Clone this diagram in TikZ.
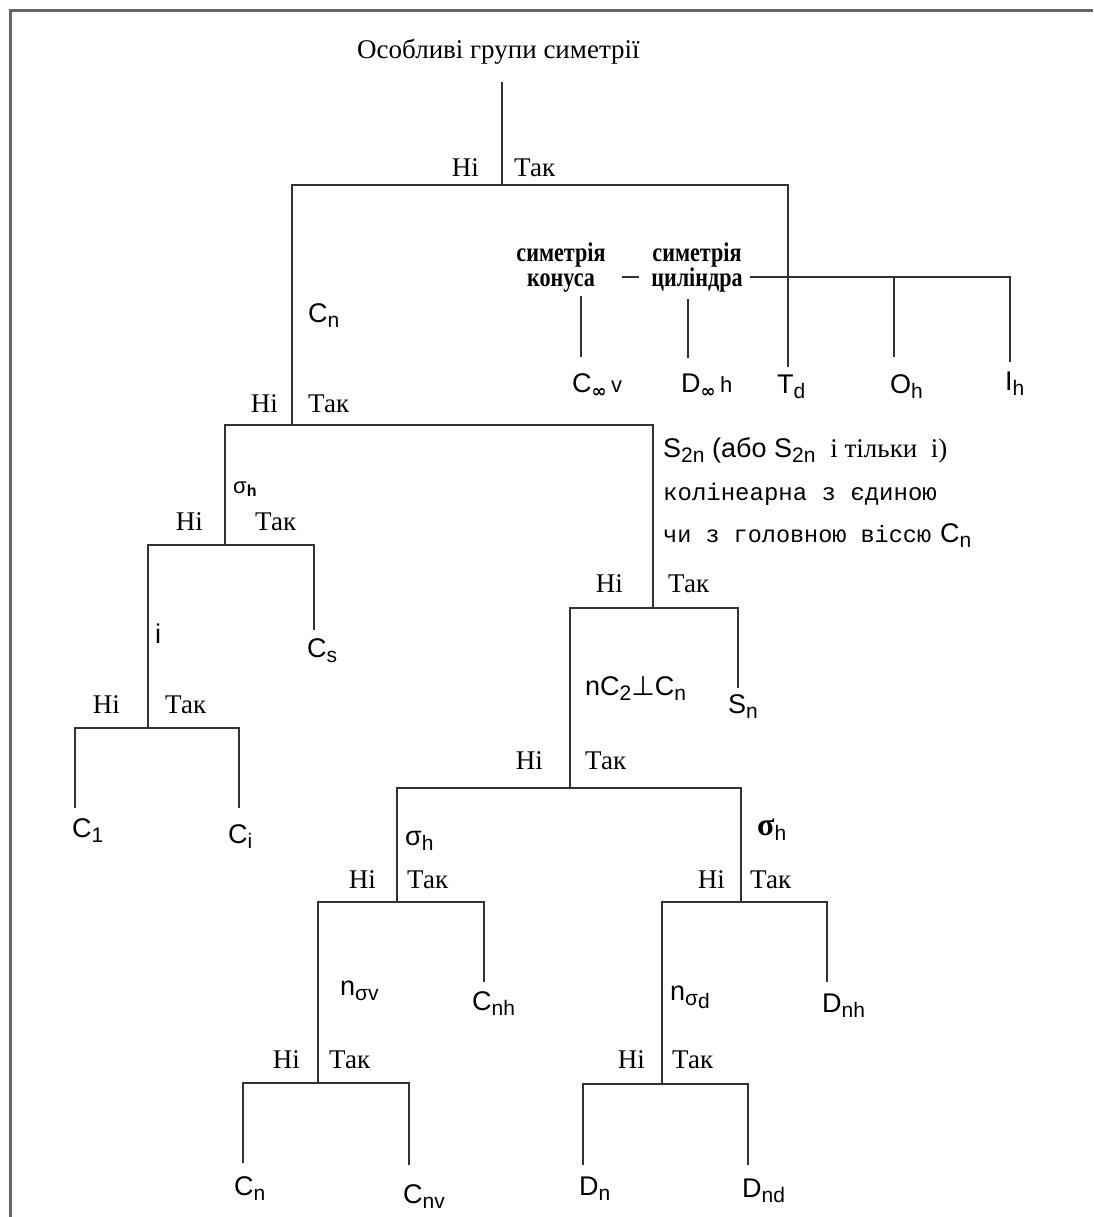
\documentclass[tikz,border=0pt]{standalone}
\usepackage{fontspec}
\setmainfont{Liberation Serif}
\setsansfont{Liberation Sans}
\setmonofont{Liberation Mono}
\newfontfamily\djv{DejaVu Sans}
\newcommand\sbx[1]{\raisebox{-5pt}{\fontsize{21}{21}\selectfont #1}}
\tikzset{
  br/.style={line width=2pt, draw=black!80},
  yn/.style={inner sep=0pt, font=\fontsize{27}{30}\selectfont\rmfamily},
  ynl/.style={yn, anchor=base east},
  ynr/.style={yn, anchor=base west},
  sym/.style={inner sep=0pt, anchor=base west, font=\fontsize{27}{30}\selectfont\sffamily},
  cond/.style={inner sep=0pt, align=center, font=\fontsize{27}{25}\selectfont\bfseries\rmfamily},
  frm/.style={line width=3pt, draw=black!60}
}
\begin{document}
\begin{tikzpicture}[x=1pt,y=-1pt]
\useasboundingbox (0,0) rectangle (1093,1217);
\fill[white] (0,0) rectangle (1093,1217);
\draw[frm] (10,1217) -- (10,11) -- (1093,11);

% title
\node[yn, anchor=base west] (title) at (357,59) {Особливі групи симетрії};

% coordinates
\coordinate (r0) at (502,82);
\coordinate (j0) at (502,185);
\coordinate (tdE) at (788,367);
\coordinate (j1) at (292,425);
\coordinate (j2) at (225,545);
\coordinate (j3) at (148,728);
\coordinate (csE) at (314,630);
\coordinate (c1E) at (75,808);
\coordinate (ciE) at (239,808);
\coordinate (j5) at (653,608);
\coordinate (snE) at (738,688);
\coordinate (j6) at (570,788);
\coordinate (j7) at (397,902);
\coordinate (j8) at (741,902);
\coordinate (cnhE) at (484,982);
\coordinate (dnhE) at (827,982);
\coordinate (j9) at (318,1083);
\coordinate (j10) at (662,1084);
\coordinate (cnE) at (243,1163);
\coordinate (cnvE) at (409,1165);
\coordinate (dnE) at (583,1165);
\coordinate (dndE) at (748,1165);
% symmetry group coordinates
\coordinate (hs) at (750,277);
\coordinate (ihE) at (1010,362);
\coordinate (ohT) at (894,277);
\coordinate (ohE) at (894,357);
\coordinate (d1) at (622,277);
\coordinate (d2) at (639,277);
\coordinate (cv1) at (581,296);
\coordinate (cv2) at (581,357);
\coordinate (dv1) at (688,299);
\coordinate (dv2) at (688,358);

% connectors
\draw[br] (r0) -- (j0);
\draw[br] (j0) -| (j1);
\draw[br] (j0) -| (tdE);
\draw[br] (hs) -| (ihE);
\draw[br] (ohT) -- (ohE);
\draw[br] (d1) -- (d2);
\draw[br] (cv1) -- (cv2);
\draw[br] (dv1) -- (dv2);
\draw[br] (j1) -| (j2);
\draw[br] (j1) -| (j5);
\draw[br] (j2) -| (j3);
\draw[br] (j2) -| (csE);
\draw[br] (j3) -| (c1E);
\draw[br] (j3) -| (ciE);
\draw[br] (j5) -| (j6);
\draw[br] (j5) -| (snE);
\draw[br] (j6) -| (j7);
\draw[br] (j6) -| (j8);
\draw[br] (j7) -| (j9);
\draw[br] (j7) -| (cnhE);
\draw[br] (j8) -| (j10);
\draw[br] (j8) -| (dnhE);
\draw[br] (j9) -| (cnE);
\draw[br] (j9) -| (cnvE);
\draw[br] (j10) -| (dnE);
\draw[br] (j10) -| (dndE);

% yes / no labels
\node[ynl] (j0n) at (479,176) {Ні};   \node[ynr] (j0y) at (514,176) {Так};
\node[ynl] (j1n) at (278,412) {Ні};   \node[ynr] (j1y) at (308,412) {Так};
\node[ynl] (j2n) at (203,530) {Ні};   \node[ynr] (j2y) at (255,530) {Так};
\node[ynl] (j3n) at (120,713) {Ні};   \node[ynr] (j3y) at (165,713) {Так};
\node[ynl] (j5n) at (623,592) {Ні};   \node[ynr] (j5y) at (668,592) {Так};
\node[ynl] (j6n) at (543,769) {Ні};   \node[ynr] (j6y) at (585,769) {Так};
\node[ynl] (j7n) at (376,888) {Ні};   \node[ynr] (j7y) at (407,888) {Так};
\node[ynl] (j8n) at (725,888) {Ні};   \node[ynr] (j8y) at (750,888) {Так};
\node[ynl] (j9n) at (300,1068) {Ні};  \node[ynr] (j9y) at (329,1068) {Так};
\node[ynl] (j10n) at (645,1068) {Ні}; \node[ynr] (j10y) at (672,1068) {Так};

% symmetry texts
\node[cond] (con) at (561,268) {\scalebox{0.82}[1]{симетрія}\\\scalebox{0.82}[1]{конуса}};
\node[cond] (cyl) at (697,268) {\scalebox{0.82}[1]{симетрія}\\\scalebox{0.82}[1]{циліндра}};

% leaf / condition labels
\node[sym] (cinfv) at (572,392) {C\raisebox{-5pt}{\fontsize{18}{18}\selectfont\djv\bfseries ∞}\,{\fontsize{22}{22}\selectfont v}};
\node[sym] (dinfh) at (681,392) {D\raisebox{-5pt}{\fontsize{18}{18}\selectfont\djv\bfseries ∞}\,{\fontsize{22}{22}\selectfont h}};
\node[sym] (td) at (777,393) {T\sbx{d}};
\node[sym] (oh) at (890,393) {O\sbx{h}};
\node[sym] (ih) at (1005,390) {I\sbx{h}};
\node[sym] (cn1) at (308,322) {C\sbx{n}};
\node[sym] (sg1) at (233,493) {{\fontsize{22}{22}\selectfont σ}\raisebox{-3pt}{\fontsize{16}{16}\selectfont\bfseries h}};
\node[sym] (cs) at (307,657) {C\sbx{s}};
\node[sym] (ii) at (155,643) {i};
\node[sym] (c1) at (72,837) {C\sbx{1}};
\node[sym] (ci) at (228,843) {C\sbx{i}};
\node[sym] (sn) at (728,713) {S\sbx{n}};
\node[sym] (nc2) at (585,695) {nC\sbx{2}{\djv ⊥}C\sbx{n}};
\node[sym] (sg2) at (405,845) {σ\sbx{h}};
\node[sym] (sg3) at (757,835) {{\fontsize{32}{32}\selectfont\rmfamily\bfseries σ}\sbx{h}};
\node[sym] (cnh) at (472,1010) {C\sbx{nh}};
\node[sym] (dnh) at (822,1012) {D\sbx{nh}};
\node[sym] (nsv) at (340,995) {n\sbx{σv}};
\node[sym] (nsd) at (670,1000) {n\sbx{σ\raisebox{-3pt}{d}}};
\node[sym] (cn2) at (234,1195) {C\sbx{n}};
\node[sym] (cnv) at (403,1203) {C\sbx{nv}};
\node[sym] (dn) at (579,1195) {D\sbx{n}};
\node[sym] (dnd) at (742,1197) {D\sbx{nd}};

% S2n text block
\node[sym] (s2a) at (663,457) {S\sbx{2n} (або S\sbx{2n}\ \ {\rmfamily і тільки \ і)}};
\node[sym] (s2b) at (663,500) {\fontsize{24}{26}\selectfont\ttfamily колінеарна з єдиною};
\node[sym] (s2c) at (663,542) {{\fontsize{23.5}{26}\selectfont\ttfamily чи з головною віссю}\hspace{9pt}C\sbx{n}};
\end{tikzpicture}
\end{document}
